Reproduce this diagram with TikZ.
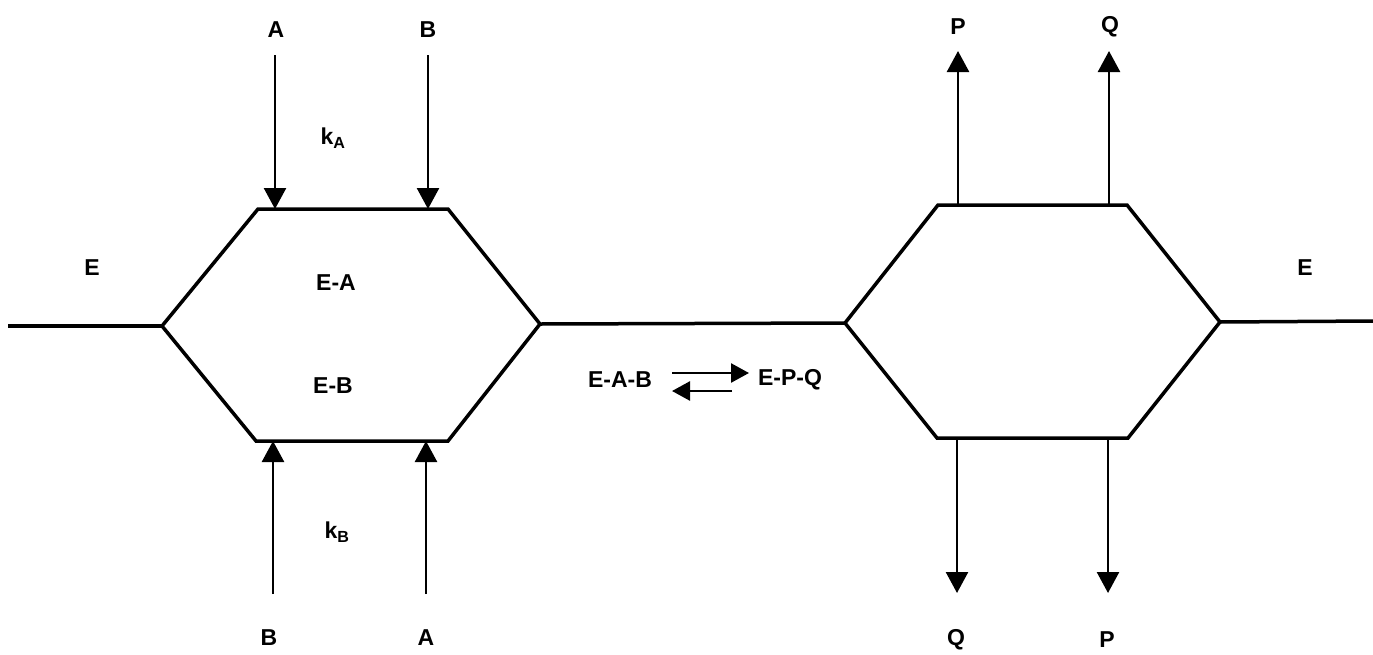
\documentclass[tikz,border=0pt]{standalone}
\usepackage{fontspec}
\setmainfont{Liberation Sans}
\usetikzlibrary{arrows.meta}
\begin{document}
\begin{tikzpicture}[x=1pt,y=-1pt,
  hexline/.style={line width=3.5pt,line join=miter},
  flow/.style={line width=2.5pt,-{Triangle[width=22pt,length=21pt]}},
  small/.style={line width=2.5pt,-{Triangle[width=19pt,length=18pt]}},
  lbl/.style={font=\bfseries\fontsize{23}{27}\selectfont,inner sep=0pt},
]
\useasboundingbox (0,0) rectangle (1373,654);
% left hexagon
\coordinate (L1) at (162,326);
\coordinate (L2) at (258,209);
\coordinate (L3) at (448,209);
\coordinate (L4) at (540,324);
\coordinate (L5) at (448,441);
\coordinate (L6) at (256,441);
\draw[hexline] (L1) -- (L2) -- (L3) -- (L4) -- (L5) -- (L6) -- cycle;
% right hexagon
\coordinate (R1) at (845,323);
\coordinate (R2) at (938,205);
\coordinate (R3) at (1127,205);
\coordinate (R4) at (1220,322);
\coordinate (R5) at (1128,438);
\coordinate (R6) at (937,438);
\draw[hexline] (R1) -- (R2) -- (R3) -- (R4) -- (R5) -- (R6) -- cycle;
% horizontal lines
\coordinate (Lend) at (8,326);
\coordinate (Rend) at (1373,321);
\draw[hexline] (Lend) -- (L1);
\draw[hexline] (L4) -- (R1);
\draw[hexline] (R4) -- (Rend);
% labels
\node[lbl] (lA) at (276,30) {A};
\node[lbl] (lB) at (428,30) {B};
\node[lbl] (kA) at (333,138) {k\textsubscript{A}};
\node[lbl] (lB2) at (269,638) {B};
\node[lbl] (lA2) at (426,638) {A};
\node[lbl] (kB) at (337,532) {k\textsubscript{B}};
\node[lbl] (lP) at (958,27) {P};
\node[lbl] (lQ) at (1110,27) {Q};
\node[lbl] (lQ2) at (956,640) {Q};
\node[lbl] (lP2) at (1107,640) {P};
\node[lbl] (E1) at (92,268) {E};
\node[lbl] (E2) at (1305,268) {E};
\node[lbl] (EA) at (336,283) {E-A};
\node[lbl] (EB) at (333,386) {E-B};
\node[lbl] (EAB) at (620,380) {E-A-B};
\node[lbl] (EPQ) at (790,380) {E-P-Q};
% arrow end points
\coordinate (a1s) at (275,55);  \coordinate (a1e) at (275,209);
\coordinate (b1s) at (428,55);  \coordinate (b1e) at (428,209);
\coordinate (b2s) at (273,594); \coordinate (b2e) at (273,441);
\coordinate (a2s) at (426,594); \coordinate (a2e) at (426,441);
\coordinate (p1s) at (958,205); \coordinate (p1e) at (958,51);
\coordinate (q1s) at (1109,205); \coordinate (q1e) at (1109,51);
\coordinate (q2s) at (957,438); \coordinate (q2e) at (957,593);
\coordinate (p2s) at (1108,438); \coordinate (p2e) at (1108,593);
\draw[flow] (a1s) -- (a1e);
\draw[flow] (b1s) -- (b1e);
\draw[flow] (b2s) -- (b2e);
\draw[flow] (a2s) -- (a2e);
\draw[flow] (p1s) -- (p1e);
\draw[flow] (q1s) -- (q1e);
\draw[flow] (q2s) -- (q2e);
\draw[flow] (p2s) -- (p2e);
% equilibrium arrows
\coordinate (f1) at (672,373); \coordinate (f2) at (749,373);
\coordinate (g1) at (732,391); \coordinate (g2) at (672,391);
\draw[small] (f1) -- (f2);
\draw[small] (g1) -- (g2);
\end{tikzpicture}
\end{document}
